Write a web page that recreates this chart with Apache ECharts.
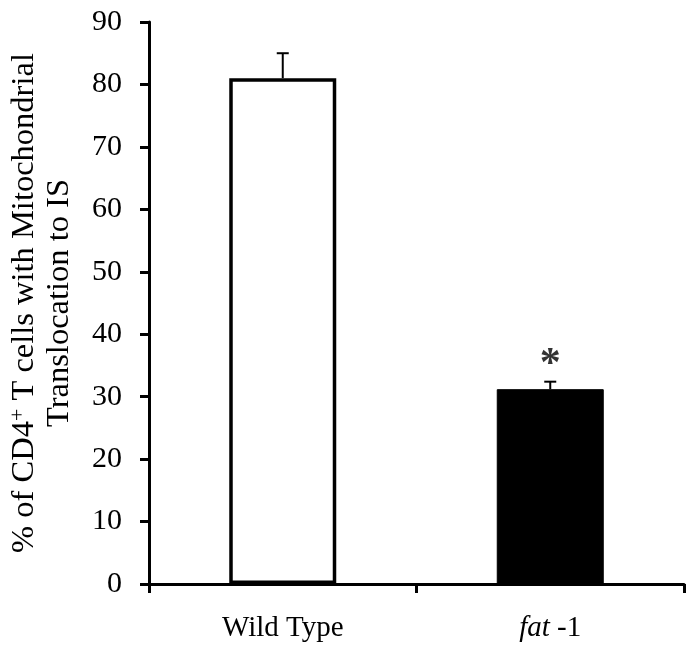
<!DOCTYPE html>
<html><head><meta charset="utf-8">
<script src="https://cdn.jsdelivr.net/npm/echarts@6/dist/echarts.min.js"></script>
<style>html,body{margin:0;padding:0;background:#fff}#c{width:700px;height:660px}</style>
</head><body><div id="c"></div>
<script>
var categories = ['Wild Type', 'fat -1'];
var means = [81, 31.2];
var errors = [4, 1.2];
var signif = ['', '*'];
var yTicks = [0, 10, 20, 30, 40, 50, 60, 70, 80, 90];

var font = 'Liberation Serif';
var chart = echarts.init(document.getElementById('c'));
chart.setOption({
  animation: false,
  grid: {left: 149, right: 16, top: 22, bottom: 76, containLabel: false, outerBoundsMode: 'none'},
  xAxis: {
    type: 'category', data: categories,
    axisLine: {lineStyle: {color: '#000', width: 3}},
    axisTick: {show: true, length: 9, lineStyle: {color: '#000', width: 3}},
    axisLabel: {
      margin: 30, color: '#000', fontFamily: font, fontSize: 29,
      formatter: function (v) {
        if (v.indexOf('fat') === 0) return '{i|fat} -1';
        return v;
      },
      rich: {i: {fontStyle: 'italic', fontFamily: font, fontSize: 29, color: '#000'}}
    }
  },
  yAxis: {
    type: 'value', min: yTicks[0], max: yTicks[yTicks.length - 1], interval: 10,
    splitLine: {show: false},
    axisLine: {show: true, lineStyle: {color: '#000', width: 3}},
    axisTick: {show: true, length: 9, lineStyle: {color: '#000', width: 3}},
    axisLabel: {margin: 27, color: '#000', fontFamily: font, fontSize: 30},
    name: '% of CD4{s|+} T cells with Mitochondrial\nTranslocation to IS',
    nameLocation: 'middle', nameRotate: 90, nameGap: 72,
    nameTextStyle: {
      color: '#000', fontFamily: font, fontSize: 32.5, lineHeight: 35, align: 'center',
      rich: {s: {fontSize: 22, verticalAlign: 'top', fontFamily: font, color: '#000', lineHeight: 24}}
    }
  },
  series: [
    {
      type: 'bar', barWidth: '40%',
      data: means.map(function (v, i) {
        return i === 0
          ? {value: v, itemStyle: {color: '#fff', borderColor: '#000', borderWidth: 3.5}}
          : {value: v, itemStyle: {color: '#000', borderColor: '#000', borderWidth: 1}};
      }),
      z: 2
    },
    {
      type: 'custom', z: 3,
      data: means.map(function (v, i) { return [i, v, v + errors[i]]; }),
      renderItem: function (params, api) {
        var x = api.value(0);
        var p0 = api.coord([x, api.value(1)]);
        var p1 = api.coord([x, api.value(2)]);
        var hw = 6;
        return {
          type: 'group',
          children: [
            {type: 'line', shape: {x1: p0[0], y1: p0[1], x2: p1[0], y2: p1[1]}, style: {stroke: '#000', lineWidth: 2}},
            {type: 'line', shape: {x1: p1[0] - hw, y1: p1[1], x2: p1[0] + hw, y2: p1[1]}, style: {stroke: '#000', lineWidth: 2}}
          ]
        };
      }
    },
    {
      type: 'scatter', symbolSize: 0, z: 4,
      data: means.map(function (v, i) { return signif[i] ? {value: [i, v + errors[i]], label: {formatter: signif[i]}} : null; }),
      label: {show: true, position: 'top', distance: -4, color: '#000', fontFamily: font, fontSize: 42, fontWeight: 'bold'}
    }
  ]
});
</script></body></html>
